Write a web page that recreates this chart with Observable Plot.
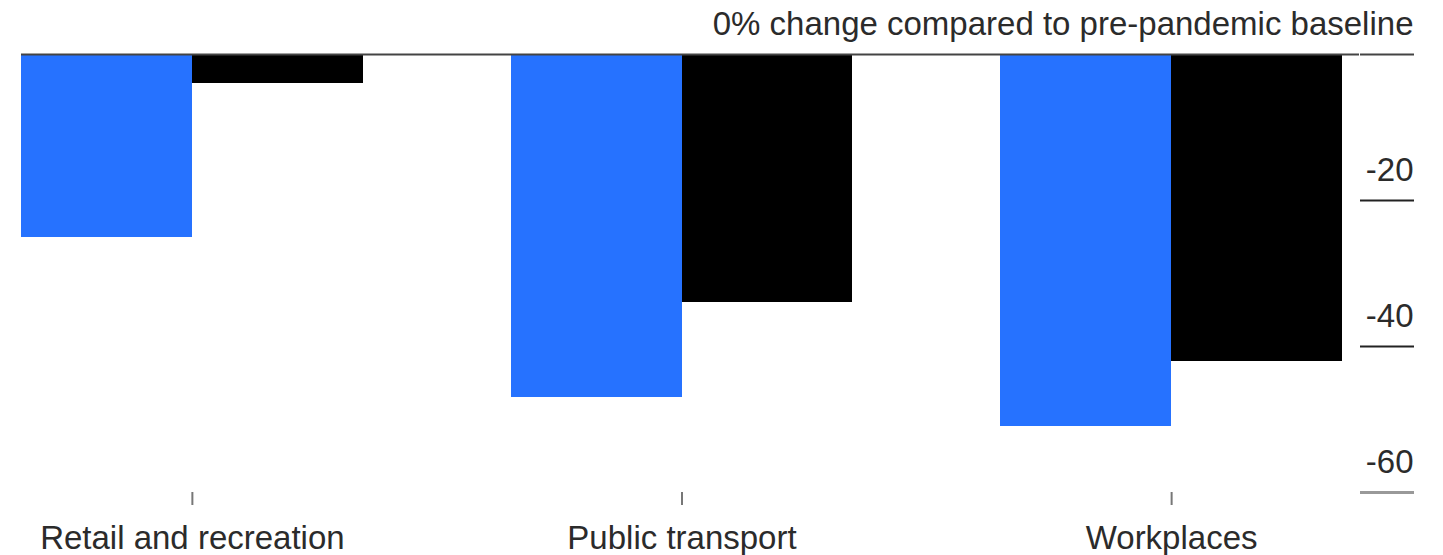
<!DOCTYPE html>
<html>
<head>
<meta charset="utf-8">
<script src="https://cdn.jsdelivr.net/npm/d3@7"></script>
<script src="https://cdn.jsdelivr.net/npm/@observablehq/plot@0.6"></script>
<style>
  html, body { margin: 0; padding: 0; background: #fff; }
  #chart svg { display: block; }
</style>
</head>
<body>
<div id="chart"></div>
<script>
// Mobility by place type, % change against the pre-pandemic baseline
const categories = ["Retail and recreation", "Public transport", "Workplaces"];
const periods = ["Then", "Now"];
const thenValues = [-25, -47, -51];
const nowValues = [-4, -34, -42];
const yTicks = [0, -20, -40, -60];
const zeroLabel = "0% change compared to pre-pandemic baseline";

const thenRows = categories.map((c, i) => ({category: c, period: periods[0], value: thenValues[i]}));
const nowRows = categories.map((c, i) => ({category: c, period: periods[1], value: nowValues[i]}));

const font = "Liberation Sans, Arial, Helvetica, sans-serif";
const ink = "#2b2b2b";

// category bands; each band is split into two side-by-side bars
const xRange = [21, 1342];
const xPadding = 0.302;
const half = d3.scaleBand().domain(categories).range(xRange).paddingInner(xPadding).bandwidth() / 2;

const axisBase = {anchor: "right", textAnchor: "end"};

const chart = Plot.plot({
  width: 1443,
  height: 555,
  marginTop: 54,
  marginBottom: 63,
  marginLeft: 21,
  marginRight: 84,
  style: {fontFamily: font, fontSize: "33px", color: ink, background: "#fff"},
  x: {domain: categories, range: xRange, paddingInner: xPadding, paddingOuter: 0, round: false, label: null},
  y: {domain: [-60, 0], label: null},
  color: {domain: periods, range: ["#2672ff", "#000000"]},
  marks: [
    Plot.barY(thenRows, {x: "category", y: "value", fill: "period", insetRight: half, shapeRendering: "crispEdges"}),
    Plot.barY(nowRows, {x: "category", y: "value", fill: "period", insetLeft: half, shapeRendering: "crispEdges"}),
    Plot.ruleY([0], {stroke: "#444", strokeWidth: 2}),
    // tick lines on the right
    Plot.axisY([0], {...axisBase, tickSize: 54, stroke: "#444", strokeWidth: 2, tickFormat: () => ""}),
    Plot.axisY([-20, -40], {...axisBase, tickSize: 54, stroke: "#222", strokeWidth: 2, tickFormat: () => ""}),
    Plot.axisY([-60], {...axisBase, tickSize: 54, stroke: "#999", strokeWidth: 3, tickFormat: () => ""}),
    // labels sitting above their tick lines
    Plot.axisY(yTicks, {
      ...axisBase,
      tickSize: 0,
      tickPadding: 54,
      dy: -30,
      fill: ink,
      tickFormat: d => d === 0 ? zeroLabel : String(d)
    }),
    Plot.axisX({
      anchor: "bottom",
      tickSize: 13,
      tickPadding: 20,
      stroke: "#777",
      strokeWidth: 2,
      fill: ink,
      label: null
    })
  ]
});

document.getElementById("chart").appendChild(chart);
</script>
</body>
</html>
